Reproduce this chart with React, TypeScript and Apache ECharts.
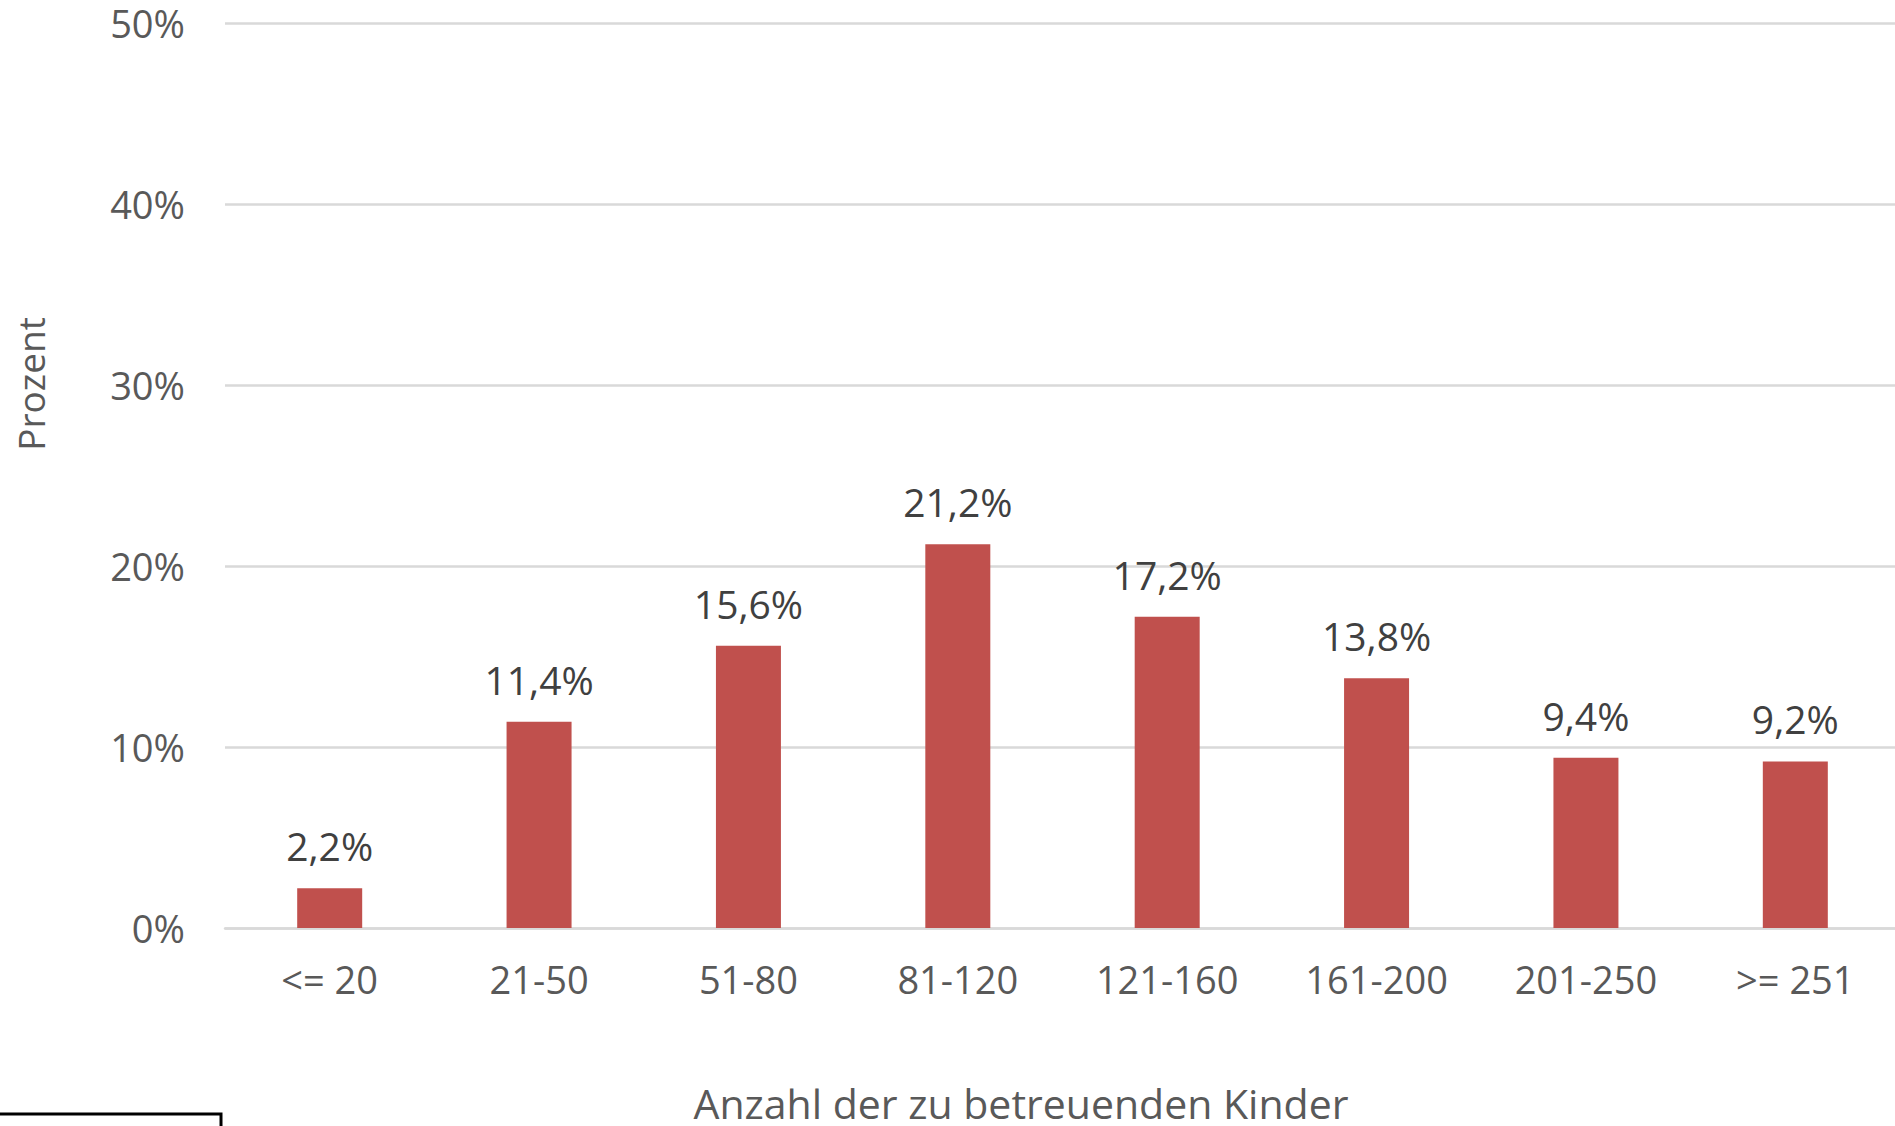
import React, { useEffect, useRef } from "react";
import * as echarts from "echarts";

const categories = ["<= 20", "21-50", "51-80", "81-120", "121-160", "161-200", "201-250", ">= 251"];
const values = [2.2, 11.4, 15.6, 21.2, 17.2, 13.8, 9.4, 9.2];
const yTicks = { min: 0, max: 50, interval: 10 };
const xAxisTitle = "Anzahl der zu betreuenden Kinder";
const yAxisTitle = "Prozent";

const FONT = "'Open Sans', 'Noto Sans', sans-serif";

export default function App() {
  const ref = useRef<HTMLDivElement>(null);
  useEffect(() => {
    if (!ref.current) return;
    const chart = echarts.init(ref.current, undefined, { renderer: "svg" });
    chart.setOption({
      animation: false,
      backgroundColor: "#ffffff",
      grid: { left: 225, right: 0, top: 23, bottom: 198, containLabel: false },
      xAxis: {
        type: "category",
        data: categories,
        axisLine: { show: true, lineStyle: { color: "#d9d9d9", width: 2.5 } },
        axisTick: { show: false },
        axisLabel: {
          color: "#595959",
          fontSize: 38,
          lineHeight: 38,
          fontFamily: FONT,
          margin: 32,
          interval: 0,
        },
      },
      yAxis: {
        type: "value",
        min: yTicks.min,
        max: yTicks.max,
        interval: yTicks.interval,
        axisLine: { show: false },
        axisTick: { show: false },
        splitLine: { lineStyle: { color: "#d9d9d9", width: 2.5 } },
        axisLabel: {
          color: "#595959",
          fontSize: 38,
          lineHeight: 38,
          fontFamily: FONT,
          margin: 40,
          formatter: "{value}%",
        },
      },
      series: [
        {
          type: "bar",
          data: values,
          barWidth: 65,
          itemStyle: { color: "#C0504D" },
          label: {
            show: true,
            position: "top",
            distance: 23,
            color: "#404040",
            fontSize: 39,
            lineHeight: 39,
            fontFamily: FONT,
            formatter: (p: any) => p.value.toFixed(1).replace(".", ",") + "%",
          },
        },
      ],
      graphic: [
        {
          type: "text",
          x: 30,
          y: 384,
          rotation: Math.PI / 2,
          style: {
            text: yAxisTitle,
            fill: "#595959",
            font: `37px ${FONT}`,
            align: "center",
            verticalAlign: "middle",
          },
        },
        {
          type: "text",
          x: 1021,
          y: 1103,
          style: {
            text: xAxisTitle,
            fill: "#595959",
            font: `41px ${FONT}`,
            lineHeight: 41,
            align: "center",
            verticalAlign: "middle",
          },
        },
        {
          type: "rect",
          shape: { x: -5, y: 1114, width: 226, height: 40 },
          style: { fill: "none", stroke: "#000000", lineWidth: 3 },
        },
      ],
    });
    return () => chart.dispose();
  }, []);
  return (
    <div
      ref={ref}
      style={{ position: "fixed", left: 0, top: 0, width: 1900, height: 1126 }}
    />
  );
}
